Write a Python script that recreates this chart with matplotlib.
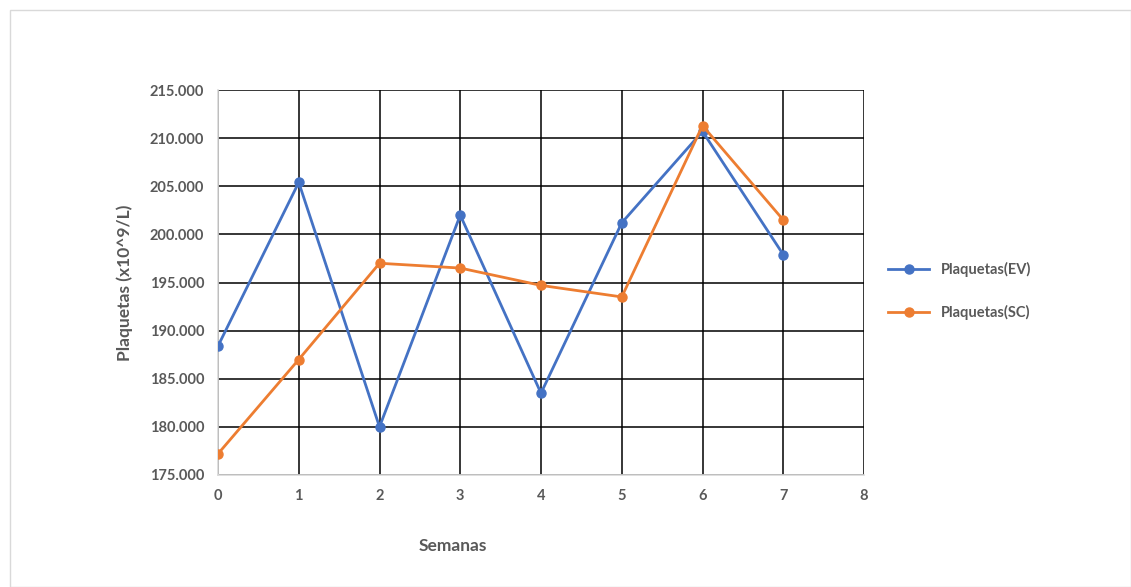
import matplotlib
matplotlib.use("Agg")
import matplotlib.pyplot as plt
from matplotlib.patches import Rectangle
from matplotlib.ticker import FuncFormatter, MultipleLocator

semanas = [0, 1, 2, 3, 4, 5, 6, 7]
plaquetas_ev = [188.4, 205.4, 180.0, 202.0, 183.5, 201.2, 210.7, 197.9]
plaquetas_sc = [177.2, 187.0, 197.0, 196.5, 194.7, 193.5, 211.3, 201.5]
serie_labels = ["Plaquetas(EV)", "Plaquetas(SC)"]

BLUE = "#4472C4"
ORANGE = "#ED7D31"
GRAY_TXT = "#595959"
FONT = ["Lato", "DejaVu Sans"]

fig = plt.figure(figsize=(11.31, 5.87), dpi=100)
fig.patches.append(Rectangle((10 / 1131, 0), 1 - 10 / 1131, 1 - 10 / 587,
                             transform=fig.transFigure, fill=False,
                             edgecolor="#d9d9d9", linewidth=1))

ax = fig.add_axes([218 / 1131, 1 - 475 / 587, (864 - 218) / 1131, (475 - 90) / 587])

ax.plot(semanas, plaquetas_ev, color=BLUE, lw=2, marker="o", ms=6.5,
        label=serie_labels[0], zorder=3)
ax.plot(semanas, plaquetas_sc, color=ORANGE, lw=2, marker="o", ms=6.5,
        label=serie_labels[1], zorder=3)

ax.set_xlim(0, 8)
ax.set_ylim(175, 215)
ax.xaxis.set_major_locator(MultipleLocator(1))
ax.yaxis.set_major_locator(MultipleLocator(5))
ax.yaxis.set_major_formatter(FuncFormatter(lambda v, p: f"{v:.3f}"))

ax.grid(True, color="black", lw=1.1, zorder=1)
ax.set_axisbelow(True)
for s in ["top", "right"]:
    ax.spines[s].set_visible(False)
ax.spines["left"].set_color("#d9d9d9")
ax.spines["bottom"].set_color("#d9d9d9")
ax.spines["left"].set_linewidth(1.2)
ax.spines["bottom"].set_linewidth(1.2)
ax.tick_params(length=0, pad=10, labelsize=10.5, labelcolor=GRAY_TXT)
for lab in ax.get_xticklabels() + ax.get_yticklabels():
    lab.set_fontweight("bold")
    lab.set_family(FONT)

ax.set_xlabel("Semanas", fontsize=12.5, fontweight="bold", color=GRAY_TXT,
              family=FONT)
ax.xaxis.set_label_coords((453 - 218) / 646, (475 - 538) / 385)
ax.set_ylabel("Plaquetas (x10^9/L)", fontsize=12.5, fontweight="bold",
              color=GRAY_TXT, family=FONT, labelpad=12)

leg = fig.legend(loc="center left", bbox_to_anchor=(875 / 1131, 1 - 291 / 587),
                 frameon=False, labelspacing=1.9, handlelength=2.8,
                 prop={"family": FONT, "weight": "bold", "size": 10.5})
for t in leg.get_texts():
    t.set_color(GRAY_TXT)

fig.savefig("out.png", dpi=100, facecolor="white")
